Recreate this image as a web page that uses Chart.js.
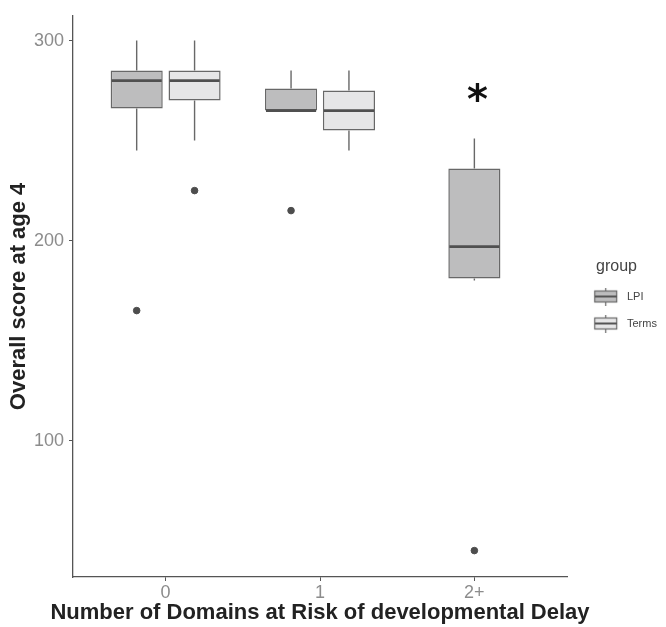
<!DOCTYPE html>
<html lang="en">

<head>
  <meta charset="UTF-8">
  <title>Overall score at age 4</title>
  <style>
    body {
      margin: 0;
      background-color: #ffffff;
    }

    #chart-container {
      width: 666px;
      height: 627px;
    }
  </style>
</head>

<body>
  <div id="chart-container">
    <canvas id="boxChart"></canvas>
  </div>

  <script src="https://cdn.jsdelivr.net/npm/chart.js"></script>
  <script>
    const categories = ['0', '1', '2+'];
    const groups = ['LPI', 'Terms'];
    const yTicks = [100, 200, 300];
    const xTitle = 'Number of Domains at Risk of developmental Delay';
    const yTitle = 'Overall score at age 4';

    // box stats, one entry per category (null = no box)
    const lpiLow = [245, 265, 180];
    const lpiQ1 = [266, 265, 181];
    const lpiMedian = [280, 265, 197];
    const lpiQ3 = [285, 276, 236];
    const lpiHigh = [300, 285, 251];

    const termsLow = [250, 245, null];
    const termsQ1 = [270, 255, null];
    const termsMedian = [280, 265, null];
    const termsQ3 = [285, 275, null];
    const termsHigh = [300, 285, null];

    const lpiOutliers = [165, 215, 45];
    const termsOutliers = [225, null, null];

    // significance star over the 2+ group
    const starX = 2.02;
    const starValue = 273;

    const fills = ['#bdbdbe', '#e6e6e7'];
    const lineColor = '#686868';

    // dodge: two boxes share a category, a lone box stays centred
    function dodgeX(cat, groupIndex) {
      const both = lpiQ1[cat] !== null && termsQ1[cat] !== null;
      if (!both) return cat;
      return cat + (groupIndex === 0 ? -0.1875 : 0.1875);
    }

    function boxData(q1, q3, g) {
      const out = [];
      q1.forEach((v, i) => {
        if (v !== null) out.push({ x: dodgeX(i, g), y: [v, q3[i]] });
      });
      return out;
    }

    function outlierData(vals, g) {
      const out = [];
      vals.forEach((v, i) => {
        if (v !== null) out.push({ x: dodgeX(i, g), y: v });
      });
      return out;
    }

    const stats = [
      { low: lpiLow, q1: lpiQ1, median: lpiMedian, q3: lpiQ3, high: lpiHigh },
      { low: termsLow, q1: termsQ1, median: termsMedian, q3: termsQ3, high: termsHigh }
    ];

    // small boxplot glyph for the legend keys
    function keyIcon(fill) {
      const c = document.createElement('canvas');
      c.width = 44;
      c.height = 18;
      const g = c.getContext('2d');
      const x0 = 14, w = 23;
      g.strokeStyle = lineColor;
      g.lineWidth = 1.2;
      g.beginPath();
      g.moveTo(x0 + w / 2, 0);
      g.lineTo(x0 + w / 2, 18);
      g.stroke();
      g.fillStyle = fill;
      g.fillRect(x0 + 0.5, 3.5, w - 1, 11);
      g.strokeRect(x0 + 0.5, 3.5, w - 1, 11);
      g.lineWidth = 2;
      g.strokeStyle = '#555555';
      g.beginPath();
      g.moveTo(x0 + 0.5, 9);
      g.lineTo(x0 + w - 0.5, 9);
      g.stroke();
      return c;
    }

    const titleFont = { family: '"Liberation Sans", Arial, sans-serif', size: 22, weight: 'bold' };
    const axisFont = { family: '"Liberation Sans", Arial, sans-serif', size: 18 };

    const boxPlugin = {
      id: 'boxWhiskers',
      afterDatasetsDraw(chart) {
        const ctx = chart.ctx;
        const y = chart.scales.y;
        ctx.save();
        stats.forEach((s, g) => {
          const meta = chart.getDatasetMeta(g);
          let k = 0;
          s.q1.forEach((q1, i) => {
            if (q1 === null) return;
            const bar = meta.data[k++];
            const half = bar.width / 2;
            ctx.strokeStyle = lineColor;
            ctx.lineWidth = 1.4;
            ctx.beginPath();
            ctx.moveTo(bar.x, y.getPixelForValue(s.q3[i]));
            ctx.lineTo(bar.x, y.getPixelForValue(s.high[i]));
            ctx.moveTo(bar.x, y.getPixelForValue(q1));
            ctx.lineTo(bar.x, y.getPixelForValue(s.low[i]));
            ctx.stroke();
            ctx.strokeStyle = '#505050';
            ctx.lineWidth = 2.8;
            ctx.beginPath();
            ctx.moveTo(bar.x - half + 1, y.getPixelForValue(s.median[i]));
            ctx.lineTo(bar.x + half - 1, y.getPixelForValue(s.median[i]));
            ctx.stroke();
          });
        });
        ctx.fillStyle = '#111111';
        ctx.font = 'bold 40px "DejaVu Sans"';
        ctx.textAlign = 'center';
        ctx.textBaseline = 'middle';
        ctx.fillText('*', chart.scales.x.getPixelForValue(starX), y.getPixelForValue(starValue) + 8);
        ctx.restore();
      },
      afterDraw(chart) {
        // x title drawn by hand so it can run wider than the panel, as in the original
        const ctx = chart.ctx;
        const xs = chart.scales.x;
        ctx.save();
        ctx.fillStyle = '#222222';
        ctx.font = 'bold ' + titleFont.size + 'px ' + titleFont.family;
        ctx.textAlign = 'center';
        ctx.textBaseline = 'middle';
        ctx.fillText(xTitle, (xs.left + xs.right) / 2, xs.bottom - 14);
        ctx.restore();
      }
    };

    const config = {
      type: 'bar',
      data: {
        datasets: [
          {
            label: groups[0],
            data: boxData(lpiQ1, lpiQ3, 0),
            backgroundColor: fills[0],
            borderColor: lineColor,
            borderWidth: 1.5,
            borderSkipped: false,
            grouped: false,
            barPercentage: 0.9,
            categoryPercentage: 1
          },
          {
            label: groups[1],
            data: boxData(termsQ1, termsQ3, 1),
            backgroundColor: fills[1],
            borderColor: lineColor,
            borderWidth: 1.5,
            borderSkipped: false,
            grouped: false,
            barPercentage: 0.9,
            categoryPercentage: 1
          },
          {
            type: 'scatter',
            label: 'outliers',
            data: outlierData(lpiOutliers, 0).concat(outlierData(termsOutliers, 1)),
            backgroundColor: '#4d4d4d',
            borderColor: '#4d4d4d',
            pointRadius: 3.3,
            showLine: false
          }
        ]
      },
      options: {
        responsive: true,
        maintainAspectRatio: false,
        animation: false,
        layout: {
          padding: { top: 13, right: 0, bottom: 0, left: 0 }
        },
        scales: {
          x: {
            type: 'linear',
            min: -0.6,
            max: 2.6,
            offset: false,
            afterBuildTicks: (scale) => {
              scale.ticks = categories.map((c, i) => ({ value: i }));
            },
            afterFit: (scale) => {
              scale.height = 50;
            },
            ticks: {
              callback: (v) => categories[v],
              color: '#8c8c8c',
              font: axisFont,
              padding: 1,
              maxRotation: 0
            },
            grid: {
              offset: false,
              drawOnChartArea: false,
              drawTicks: true,
              tickLength: 4,
              color: '#555555'
            },
            border: { display: true, color: '#555555', width: 1.3 },
            title: { display: false }
          },
          y: {
            min: 31.8,
            max: 312.4,
            afterBuildTicks: (scale) => {
              scale.ticks = yTicks.map(v => ({ value: v }));
            },
            afterFit: (scale) => {
              scale.width = 73;
            },
            ticks: {
              color: '#8c8c8c',
              font: axisFont,
              padding: 5
            },
            grid: {
              drawOnChartArea: false,
              drawTicks: true,
              tickLength: 4,
              color: '#555555'
            },
            border: { display: true, color: '#555555', width: 1.3 },
            title: {
              display: true,
              text: yTitle,
              color: '#222222',
              font: titleFont,
              padding: { top: 6, bottom: 0 }
            }
          }
        },
        plugins: {
          tooltip: { enabled: false },
          legend: {
            position: 'right',
            align: 'start',
            maxWidth: 99,
            title: {
              display: true,
              text: 'group',
              color: '#444444',
              position: 'center',
              font: { family: '"Liberation Sans", Arial, sans-serif', size: 16, lineHeight: 1 },
              padding: { top: 246, bottom: 0 }
            },
            labels: {
              usePointStyle: true,
              pointStyleWidth: 38.5,
              padding: 16,
              color: '#555555',
              font: { family: '"Liberation Sans", Arial, sans-serif', size: 11 },
              generateLabels: () => groups.map((g, i) => ({
                text: g,
                pointStyle: keyIcon(fills[i]),
                fillStyle: fills[i],
                strokeStyle: lineColor,
                lineWidth: 0,
                datasetIndex: i,
                hidden: false
              }))
            }
          }
        }
      },
      plugins: [boxPlugin]
    };

    const chart = new Chart(document.getElementById('boxChart'), config);
  </script>
</body>

</html>
